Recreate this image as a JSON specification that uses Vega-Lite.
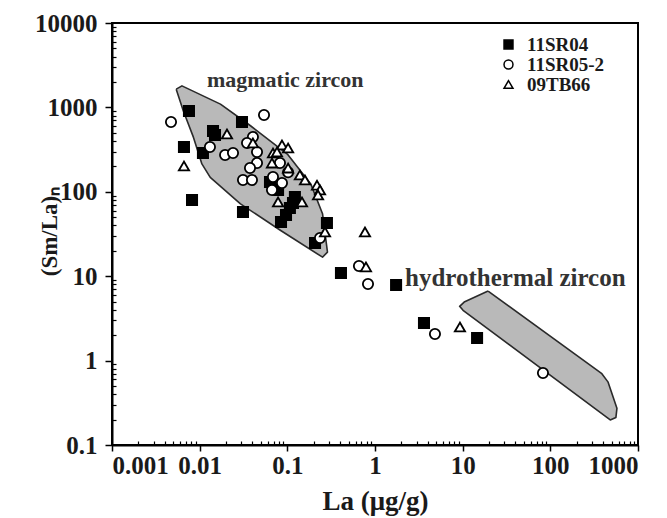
{
  "$schema": "https://vega.github.io/schema/vega-lite/v6.json",
  "autosize": "none",
  "width": 526,
  "height": 422,
  "padding": {"left": 112, "top": 23, "right": 29, "bottom": 73},
  "background": "white",
  "config": {
    "view": {"stroke": "black", "strokeWidth": 2},
    "font": "Liberation Serif"
  },
  "datasets": {
    "fields": [
      {"field": "magmatic", "order": 1, "La": 0.0054, "SmLa": 1645},
      {"field": "magmatic", "order": 2, "La": 0.00628, "SmLa": 1800},
      {"field": "magmatic", "order": 3, "La": 0.01726, "SmLa": 1094},
      {"field": "magmatic", "order": 4, "La": 0.038, "SmLa": 606},
      {"field": "magmatic", "order": 5, "La": 0.1, "SmLa": 280},
      {"field": "magmatic", "order": 6, "La": 0.185, "SmLa": 124},
      {"field": "magmatic", "order": 7, "La": 0.252, "SmLa": 55},
      {"field": "magmatic", "order": 8, "La": 0.287, "SmLa": 19.3},
      {"field": "magmatic", "order": 9, "La": 0.252, "SmLa": 16.8},
      {"field": "magmatic", "order": 10, "La": 0.084, "SmLa": 34.8},
      {"field": "magmatic", "order": 11, "La": 0.0292, "SmLa": 72},
      {"field": "magmatic", "order": 12, "La": 0.0132, "SmLa": 148},
      {"field": "magmatic", "order": 13, "La": 0.0106, "SmLa": 214},
      {"field": "magmatic", "order": 14, "La": 0.0085, "SmLa": 441},
      {"field": "magmatic", "order": 15, "La": 0.0065, "SmLa": 912},
      {"field": "magmatic", "order": 16, "La": 0.0054, "SmLa": 1645},
      {"field": "hydrothermal", "order": 1, "La": 19.5, "SmLa": 6.67},
      {"field": "hydrothermal", "order": 2, "La": 387, "SmLa": 0.70},
      {"field": "hydrothermal", "order": 3, "La": 454, "SmLa": 0.56},
      {"field": "hydrothermal", "order": 4, "La": 575, "SmLa": 0.272},
      {"field": "hydrothermal", "order": 5, "La": 560, "SmLa": 0.212},
      {"field": "hydrothermal", "order": 6, "La": 482, "SmLa": 0.198},
      {"field": "hydrothermal", "order": 7, "La": 10.1, "SmLa": 3.94},
      {"field": "hydrothermal", "order": 8, "La": 9.23, "SmLa": 4.40},
      {"field": "hydrothermal", "order": 9, "La": 10.4, "SmLa": 4.94},
      {"field": "hydrothermal", "order": 10, "La": 19.5, "SmLa": 6.67}
    ],
    "samples": [
      {"sample": "11SR04", "La": 0.00755, "SmLa": 906},
      {"sample": "11SR04", "La": 0.00662, "SmLa": 340},
      {"sample": "11SR04", "La": 0.00818, "SmLa": 80},
      {"sample": "11SR04", "La": 0.0109, "SmLa": 288},
      {"sample": "11SR04", "La": 0.0142, "SmLa": 525},
      {"sample": "11SR04", "La": 0.01496, "SmLa": 471},
      {"sample": "11SR04", "La": 0.0304, "SmLa": 671},
      {"sample": "11SR04", "La": 0.0312, "SmLa": 57.7},
      {"sample": "11SR04", "La": 0.0634, "SmLa": 131},
      {"sample": "11SR04", "La": 0.0784, "SmLa": 105},
      {"sample": "11SR04", "La": 0.0847, "SmLa": 43.9},
      {"sample": "11SR04", "La": 0.0966, "SmLa": 53.1},
      {"sample": "11SR04", "La": 0.107, "SmLa": 64.3},
      {"sample": "11SR04", "La": 0.116, "SmLa": 73.7},
      {"sample": "11SR04", "La": 0.122, "SmLa": 86.8},
      {"sample": "11SR04", "La": 0.283, "SmLa": 42.7},
      {"sample": "11SR04", "La": 0.207, "SmLa": 24.7},
      {"sample": "11SR04", "La": 0.409, "SmLa": 10.9},
      {"sample": "11SR04", "La": 1.74, "SmLa": 7.87},
      {"sample": "11SR04", "La": 3.62, "SmLa": 2.79},
      {"sample": "11SR04", "La": 14.6, "SmLa": 1.85},
      {"sample": "11SR05-2", "La": 0.00471, "SmLa": 671},
      {"sample": "11SR05-2", "La": 0.0131, "SmLa": 340},
      {"sample": "11SR05-2", "La": 0.0195, "SmLa": 273},
      {"sample": "11SR05-2", "La": 0.024, "SmLa": 288},
      {"sample": "11SR05-2", "La": 0.0542, "SmLa": 813},
      {"sample": "11SR05-2", "La": 0.0405, "SmLa": 446},
      {"sample": "11SR05-2", "La": 0.0347, "SmLa": 379},
      {"sample": "11SR05-2", "La": 0.0451, "SmLa": 296},
      {"sample": "11SR05-2", "La": 0.0451, "SmLa": 219},
      {"sample": "11SR05-2", "La": 0.0375, "SmLa": 191},
      {"sample": "11SR05-2", "La": 0.0312, "SmLa": 138},
      {"sample": "11SR05-2", "La": 0.0395, "SmLa": 138},
      {"sample": "11SR05-2", "La": 0.0668, "SmLa": 105},
      {"sample": "11SR05-2", "La": 0.0869, "SmLa": 127},
      {"sample": "11SR05-2", "La": 0.0686, "SmLa": 150},
      {"sample": "11SR05-2", "La": 0.0824, "SmLa": 219},
      {"sample": "11SR05-2", "La": 0.102, "SmLa": 170},
      {"sample": "11SR05-2", "La": 0.236, "SmLa": 28.4},
      {"sample": "11SR05-2", "La": 0.656, "SmLa": 13.2},
      {"sample": "11SR05-2", "La": 0.832, "SmLa": 8.09},
      {"sample": "11SR05-2", "La": 4.83, "SmLa": 2.07},
      {"sample": "11SR05-2", "La": 82.4, "SmLa": 0.713},
      {"sample": "09TB66", "La": 0.00662, "SmLa": 202},
      {"sample": "09TB66", "La": 0.0205, "SmLa": 484},
      {"sample": "09TB66", "La": 0.0405, "SmLa": 379},
      {"sample": "09TB66", "La": 0.0869, "SmLa": 359},
      {"sample": "09TB66", "La": 0.102, "SmLa": 330},
      {"sample": "09TB66", "La": 0.0686, "SmLa": 288},
      {"sample": "09TB66", "La": 0.0762, "SmLa": 296},
      {"sample": "09TB66", "La": 0.0668, "SmLa": 219},
      {"sample": "09TB66", "La": 0.102, "SmLa": 191},
      {"sample": "09TB66", "La": 0.139, "SmLa": 158},
      {"sample": "09TB66", "La": 0.159, "SmLa": 138},
      {"sample": "09TB66", "La": 0.218, "SmLa": 120},
      {"sample": "09TB66", "La": 0.236, "SmLa": 105},
      {"sample": "09TB66", "La": 0.0784, "SmLa": 75.7},
      {"sample": "09TB66", "La": 0.147, "SmLa": 75.7},
      {"sample": "09TB66", "La": 0.224, "SmLa": 91.6},
      {"sample": "09TB66", "La": 0.269, "SmLa": 33.4},
      {"sample": "09TB66", "La": 0.769, "SmLa": 33.4},
      {"sample": "09TB66", "La": 0.789, "SmLa": 12.9},
      {"sample": "09TB66", "La": 9.31, "SmLa": 2.5}
    ],
    "labels": [
      {"text": "magmatic zircon", "La": 0.0121, "SmLa": 2113},
      {"text": "hydrothermal zircon", "La": 2.2, "SmLa": 9.53}
    ]
  },
  "resolve": {"axis": {"x": "independent", "y": "independent"}},
  "layer": [
    {
      "data": {"name": "fields"},
      "mark": {"type": "line", "fill": "#b9b9b9", "stroke": "#2a2a2a", "strokeWidth": 1.6, "strokeJoin": "round"},
      "encoding": {
        "x": {
          "field": "La", "type": "quantitative",
          "scale": {"type": "log", "domain": [0.001, 1000], "nice": false},
          "axis": {
            "orient": "bottom",
            "values": [0.001, 0.01, 0.1, 1, 10, 100, 1000],
            "format": "~g",
            "grid": false,
            "domainColor": "black", "domainWidth": 2,
            "tickColor": "black", "tickWidth": 1.5, "tickSize": 6,
            "labelFont": "Liberation Serif", "labelFontWeight": "bold", "labelFontSize": 25, "labelColor": "#1a1a1a", "labelPadding": 2,
            "title": "La (μg/g)",
            "titleFont": "Liberation Serif", "titleFontWeight": "bold", "titleFontSize": 27, "titleColor": "#1a1a1a",
            "titleBaseline": "middle", "titleY": 56
          }
        },
        "y": {
          "field": "SmLa", "type": "quantitative",
          "scale": {"type": "log", "domain": [0.1, 10000], "nice": false},
          "axis": {
            "orient": "left",
            "values": [0.1, 1, 10, 100, 1000, 10000],
            "format": "~g",
            "grid": false,
            "domainColor": "black", "domainWidth": 2,
            "tickColor": "black", "tickWidth": 1.5, "tickSize": 7,
            "labelFont": "Liberation Serif", "labelFontWeight": "bold", "labelFontSize": 25, "labelColor": "#1a1a1a", "labelPadding": 8,
            "title": "(Sm/La)ₙ",
            "titleFont": "Liberation Serif", "titleFontWeight": "bold", "titleFontSize": 23, "titleColor": "#1a1a1a",
            "titleAngle": -90, "titleAlign": "center", "titleBaseline": "middle", "titleX": -63, "titleY": 208
          }
        },
        "order": {"field": "order", "type": "quantitative"},
        "detail": {"field": "field", "type": "nominal"}
      }
    },
    {
      "data": {"name": "samples"},
      "mark": {"type": "point", "filled": true, "stroke": "black", "strokeWidth": 1.8, "size": 105, "opacity": 1},
      "encoding": {
        "x": {
          "field": "La", "type": "quantitative",
          "axis": {
            "orient": "bottom",
            "values": [0.002,0.003,0.004,0.005,0.006,0.007,0.008,0.009,0.02,0.03,0.04,0.05,0.06,0.07,0.08,0.09,0.2,0.3,0.4,0.5,0.6,0.7,0.8,0.9,2,3,4,5,6,7,8,9,20,30,40,50,60,70,80,90,200,300,400,500,600,700,800,900],
            "labels": false, "domain": false, "grid": false, "title": null,
            "tickColor": "black", "tickWidth": 1.2, "tickSize": -4
          }
        },
        "y": {
          "field": "SmLa", "type": "quantitative",
          "axis": {
            "orient": "left",
            "values": [0.2,0.3,0.4,0.5,0.6,0.7,0.8,0.9,2,3,4,5,6,7,8,9,20,30,40,50,60,70,80,90,200,300,400,500,600,700,800,900,2000,3000,4000,5000,6000,7000,8000,9000],
            "labels": false, "domain": false, "grid": false, "title": null,
            "tickColor": "black", "tickWidth": 1.2, "tickSize": -4
          }
        },
        "shape": {
          "field": "sample", "type": "nominal",
          "scale": {"domain": ["11SR04", "11SR05-2", "09TB66"], "range": ["square", "circle", "triangle-up"]},
          "legend": {
            "title": null, "orient": "none", "legendX": 387, "legendY": 12,
            "symbolSize": 80,
            "labelFont": "Liberation Serif", "labelFontWeight": "bold", "labelFontSize": 19, "labelColor": "#1a1a1a",
            "rowPadding": 0, "labelOffset": 9,
            "encode": {"symbols": {"update": {"stroke": {"value": "black"}, "strokeWidth": {"value": 1.8}}}}
          }
        },
        "fill": {
          "field": "sample", "type": "nominal",
          "scale": {"domain": ["11SR04", "11SR05-2", "09TB66"], "range": ["black", "white", "white"]},
          "legend": {
            "title": null, "orient": "none", "legendX": 387, "legendY": 12,
            "symbolSize": 80,
            "labelFont": "Liberation Serif", "labelFontWeight": "bold", "labelFontSize": 19, "labelColor": "#1a1a1a",
            "rowPadding": 0, "labelOffset": 9,
            "encode": {"symbols": {"update": {"stroke": {"value": "black"}, "strokeWidth": {"value": 1.8}}}}
          }
        }
      }
    },
    {
      "data": {"name": "labels"},
      "transform": [{"filter": "datum.text === 'magmatic zircon'"}],
      "mark": {"type": "text", "align": "left", "baseline": "middle", "font": "Liberation Serif", "fontWeight": "bold", "fontSize": 22, "fill": "#333333"},
      "encoding": {
        "x": {"field": "La", "type": "quantitative", "axis": null},
        "y": {"field": "SmLa", "type": "quantitative", "axis": null},
        "text": {"field": "text", "type": "nominal"}
      }
    },
    {
      "data": {"name": "labels"},
      "transform": [{"filter": "datum.text === 'hydrothermal zircon'"}],
      "mark": {"type": "text", "align": "left", "baseline": "middle", "font": "Liberation Serif", "fontWeight": "bold", "fontSize": 25, "fill": "#333333"},
      "encoding": {
        "x": {"field": "La", "type": "quantitative", "axis": null},
        "y": {"field": "SmLa", "type": "quantitative", "axis": null},
        "text": {"field": "text", "type": "nominal"}
      }
    }
  ]
}
